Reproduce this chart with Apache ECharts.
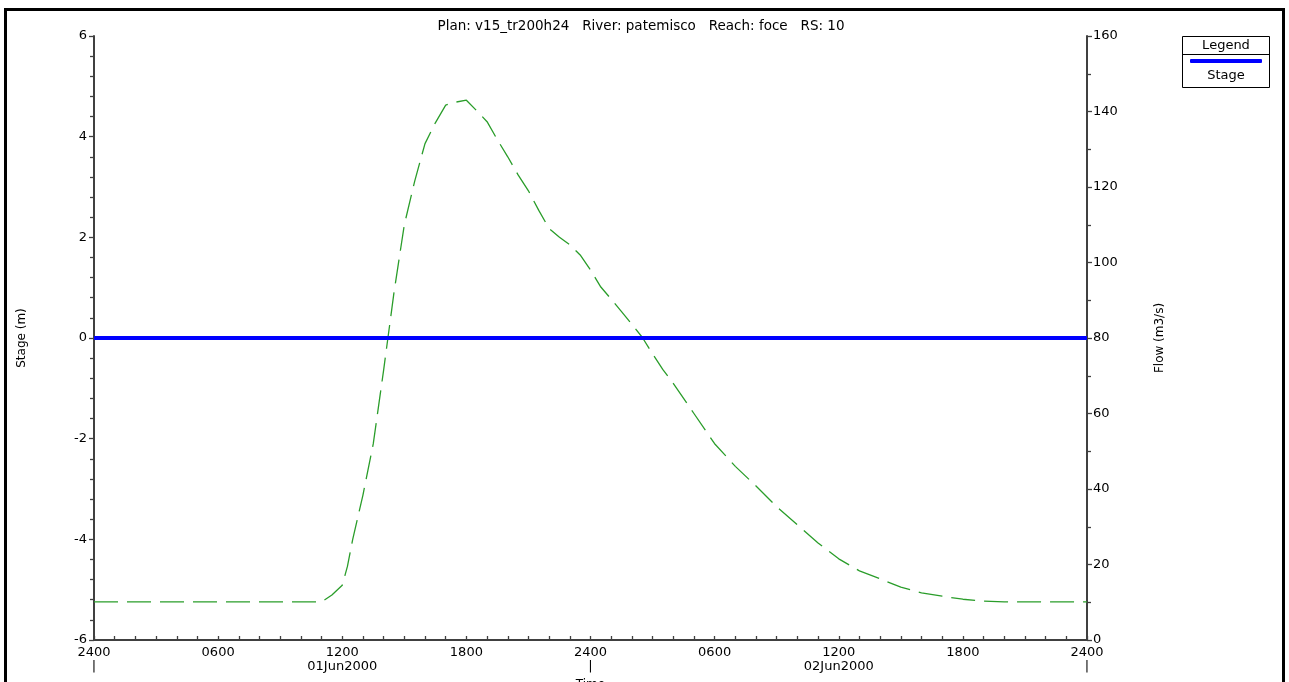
<!DOCTYPE html>
<html>
<head>
<meta charset="utf-8">
<script src="https://cdn.jsdelivr.net/npm/echarts@6/dist/echarts.min.js"></script>
<style>
html,body{margin:0;padding:0;background:#fff;}
#c{width:1289px;height:682px;}
</style>
</head>
<body>
<div id="c"></div>
<script>
// ---- data ----
const titleText = 'Plan: v15_tr200h24   River: patemisco   Reach: foce   RS: 10';
const flowTimes = [0,1,2,3,4,5,6,7,8,9,10,11,11.5,12,12.25,12.5,13,13.5,14,14.5,15,15.5,16,16.5,17,17.5,18,18.5,19,19.5,20,20.5,21,21.5,22,22.5,23,23.5,24,24.5,25,25.5,26,26.5,27,27.5,28,29,30,31,32,33,34,35,36,37,38,39,40,41,42,43,44,45,46,47,48];
const flowValues = [10.1,10.1,10.1,10.1,10.1,10.1,10.1,10.1,10.1,10.1,10.1,10.1,11.9,14.5,19.5,26.5,38.4,52,71.5,92,110,121.5,131.5,137,141.7,142.5,143,140.2,137.3,132.5,128,123.2,119,113.8,109,106.7,104.7,102,98,93.5,90.3,87,83.6,80.2,75.8,71.6,68,60,52,46,40.8,35.3,30.5,25.7,21.5,18.3,16.2,14,12.5,11.6,10.8,10.3,10.1,10.1,10.1,10.1,10.1];
const stageTimes = [0, 48];
const stageValues = [0, 0];
const xTickLabels = ['2400','0600','1200','1800','2400','0600','1200','1800','2400'];
const xSubLabels = ['|','','01Jun2000','','|','','02Jun2000','','|'];
const legendNames = ['Stage'];

const FONT = 'DejaVu Sans';
const AX = '#404040';

const chart = echarts.init(document.getElementById('c'), null, {renderer:'canvas'});
const flowData = flowTimes.map((t,i)=>[t, flowValues[i]]);
const stageData = stageTimes.map((t,i)=>[t, stageValues[i]]);

chart.setOption({
  backgroundColor:'#ffffff',
  animation:false,
  title:{
    text: titleText, left: 641, textAlign:'center', top: 19, padding: 0,
    textStyle:{fontFamily:FONT, fontSize:13.5, fontWeight:'normal', color:'#000'}
  },
  legend:{
    data: legendNames, left: 1190, top: 59, itemWidth: 72, itemHeight: 4,
    icon:'roundRect', formatter: function(){return '';}, padding:0, itemGap:0,
    selectedMode:false
  },
  grid:{left:94, right:202, top:36, bottom:42, containLabel:false, outerBoundsMode:'none'},
  xAxis:{
    type:'value', min:0, max:48, interval:6,
    name:'Time', nameLocation:'middle', nameGap:37,
    nameTextStyle:{fontFamily:FONT, fontSize:12, color:'#000'},
    axisLine:{show:true, onZero:false, lineStyle:{color:AX, width:2}},
    axisTick:{show:true, inside:true, length:4, lineStyle:{color:AX, width:1.3}},
    minorTick:{show:true, splitNumber:6, length:4, lineStyle:{color:AX, width:1.3}},
    splitLine:{show:false}, minorSplitLine:{show:false},
    axisLabel:{
      margin:6, fontFamily:FONT, fontSize:13, color:'#000', lineHeight:14,
      showMinLabel:true, showMaxLabel:true,
      formatter:function(v){const i=Math.round(v/6); return xTickLabels[i] + '\n' + xSubLabels[i];}
    }
  },
  yAxis:[{
    type:'value', min:-6, max:6, interval:2, position:'left',
    name:'Stage (m)', nameLocation:'middle', nameGap:66, nameRotate:90,
    nameTextStyle:{fontFamily:FONT, fontSize:12, color:'#000'},
    axisLine:{show:true, onZero:false, lineStyle:{color:AX, width:2}},
    axisTick:{show:true, length:5, lineStyle:{color:AX, width:1.3}},
    minorTick:{show:true, splitNumber:5, length:4, lineStyle:{color:AX, width:1.3}},
    splitLine:{show:false}, minorSplitLine:{show:false},
    axisLabel:{margin:7, fontFamily:FONT, fontSize:13, color:'#000'}
  },{
    type:'value', min:0, max:160, interval:20, position:'right',
    name:'Flow (m3/s)', nameLocation:'middle', nameGap:67, nameRotate:90,
    nameTextStyle:{fontFamily:FONT, fontSize:12, color:'#000'},
    axisLine:{show:true, onZero:false, lineStyle:{color:AX, width:2}},
    axisTick:{show:true, length:5, lineStyle:{color:AX, width:1.3}},
    minorTick:{show:true, splitNumber:2, length:4, lineStyle:{color:AX, width:1.3}},
    splitLine:{show:false}, minorSplitLine:{show:false},
    axisLabel:{margin:6, fontFamily:FONT, fontSize:13, color:'#000'}
  }],
  series:[{
    name:'Flow', type:'line', yAxisIndex:1, data:flowData, showSymbol:false, symbol:'none',
    lineStyle:{color:'#2a9d2a', width:1.3, type:[24,9]}, z:2
  },{
    name:'Stage', type:'line', yAxisIndex:0, data:stageData, showSymbol:false, symbol:'none',
    itemStyle:{color:'#0000ff'},
    lineStyle:{color:'#0000ff', width:4}, z:3
  }],
  graphic:[
    {type:'rect', shape:{x:5.5, y:9.5, width:1278, height:690}, style:{fill:'none', stroke:'#000', lineWidth:3}, silent:true},
    {type:'rect', shape:{x:1182.5, y:36.5, width:87, height:51}, style:{fill:'none', stroke:'#000', lineWidth:1}, silent:true},
    {type:'line', shape:{x1:1182.5, y1:54.5, x2:1269.5, y2:54.5}, style:{stroke:'#000', lineWidth:1}, silent:true},
    {type:'text', x:1226, y:45.5, style:{text:'Legend', fontFamily:FONT, fontSize:13, fill:'#000', align:'center', verticalAlign:'middle'}, silent:true},
    {type:'text', x:1226, y:76, style:{text:'Stage', fontFamily:FONT, fontSize:13, fill:'#000', align:'center', verticalAlign:'middle'}, silent:true}
  ]
});
</script>
</body>
</html>
